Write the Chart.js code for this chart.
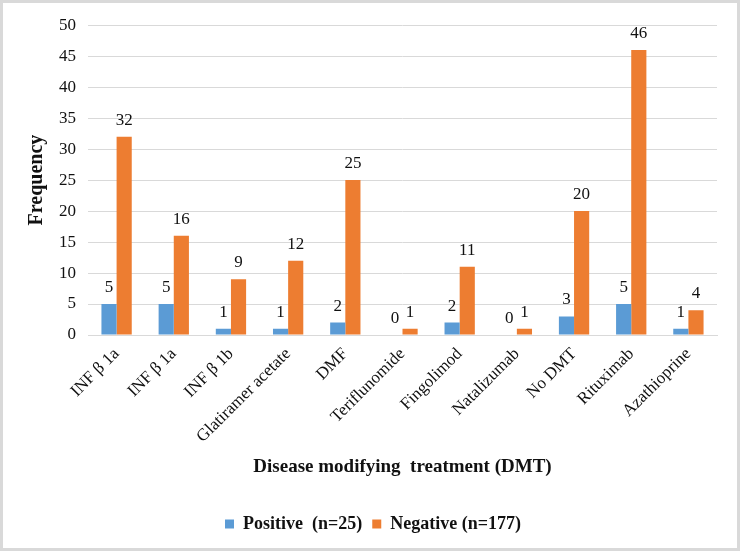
<!DOCTYPE html>
<html>
<head>
<meta charset="utf-8">
<script src="https://cdn.jsdelivr.net/npm/chart.js@4"></script>
<style>
  html, body { margin: 0; padding: 0; background: #fff; }
  #wrap { width: 740px; height: 551px; box-sizing: border-box; border: 3px solid #d9d9d9; }
  canvas { display: block; }
</style>
</head>
<body>
<div id="wrap"><canvas id="dmtChart" width="734" height="545"></canvas></div>
<script>
// data
const treatments = ['INF \u03b2 1a', 'INF \u03b2 1a', 'INF \u03b2 1b', 'Glatiramer acetate', 'DMF',
    'Teriflunomide', 'Fingolimod', 'Natalizumab', 'No DMT', 'Rituximab', 'Azathioprine'];
const positive = [5, 5, 1, 1, 2, 0, 2, 0, 3, 5, 1];
const negative = [32, 16, 9, 12, 25, 1, 11, 1, 20, 46, 4];
const yTicks = [0, 5, 10, 15, 20, 25, 30, 35, 40, 45, 50];

const SERIF = '"Liberation Serif", "Times New Roman", serif';

// value labels above each bar
const valueLabels = {
    id: 'valueLabels',
    afterDatasetsDraw(chart) {
        const ctx = chart.ctx;
        ctx.save();
        ctx.font = '17px ' + SERIF;
        ctx.fillStyle = '#111';
        ctx.textAlign = 'center';
        ctx.textBaseline = 'bottom';
        chart.data.datasets.forEach((ds, i) => {
            chart.getDatasetMeta(i).data.forEach((bar, j) => {
                ctx.fillText(String(ds.data[j]), bar.x, bar.y - 8);
            });
        });
        ctx.restore();
    }
};

// nudge the legend a bit to the right, like the original
const legendShift = {
    id: 'legendShift',
    afterLayout(chart) {
        if (chart.legend) {
            chart.legend.left += 13;
            chart.legend.right += 13;
        }
    }
};

new Chart(document.getElementById('dmtChart'), {
    type: 'bar',
    data: {
        labels: treatments,
        datasets: [
            { label: 'Positive  (n=25)', data: positive, backgroundColor: '#5b9bd5' },
            { label: 'Negative (n=177)', data: negative, backgroundColor: '#ed7d31' }
        ]
    },
    options: {
        responsive: false,
        animation: false,
        layout: { padding: { top: 16, right: 20, bottom: 5, left: 0 } },
        datasets: { bar: { barPercentage: 1, categoryPercentage: 0.53 } },
        plugins: {
            tooltip: { enabled: false },
            legend: {
                position: 'bottom',
                labels: {
                    boxWidth: 9, boxHeight: 9, padding: 10,
                    color: '#111',
                    font: { family: SERIF, size: 18, weight: 'bold' }
                }
            }
        },
        scales: {
            x: {
                grid: { display: false },
                border: { display: true, color: '#d9d9d9' },
                ticks: {
                    minRotation: 45, maxRotation: 45, padding: 1,
                    color: '#111',
                    font: { family: SERIF, size: 17 }
                },
                title: {
                    display: true,
                    text: 'Disease modifying  treatment (DMT)',
                    color: '#111',
                    padding: { bottom: 27 },
                    font: { family: SERIF, size: 19, weight: 'bold' }
                },
                afterFit(scale) { scale.height = 170; }
            },
            y: {
                min: 0, max: 50,
                afterBuildTicks(scale) { scale.ticks = yTicks.map(v => ({ value: v })); },
                grid: { color: '#d9d9d9', drawTicks: false },
                border: { display: false },
                ticks: {
                    padding: 12,
                    color: '#111',
                    font: { family: SERIF, size: 17 }
                },
                title: {
                    display: true,
                    text: 'Frequency',
                    color: '#111',
                    padding: { top: 22 },
                    font: { family: SERIF, size: 20, weight: 'bold' }
                },
                afterFit(scale) { scale.width = 85; }
            }
        }
    },
    plugins: [valueLabels, legendShift]
});
</script>
</body>
</html>
